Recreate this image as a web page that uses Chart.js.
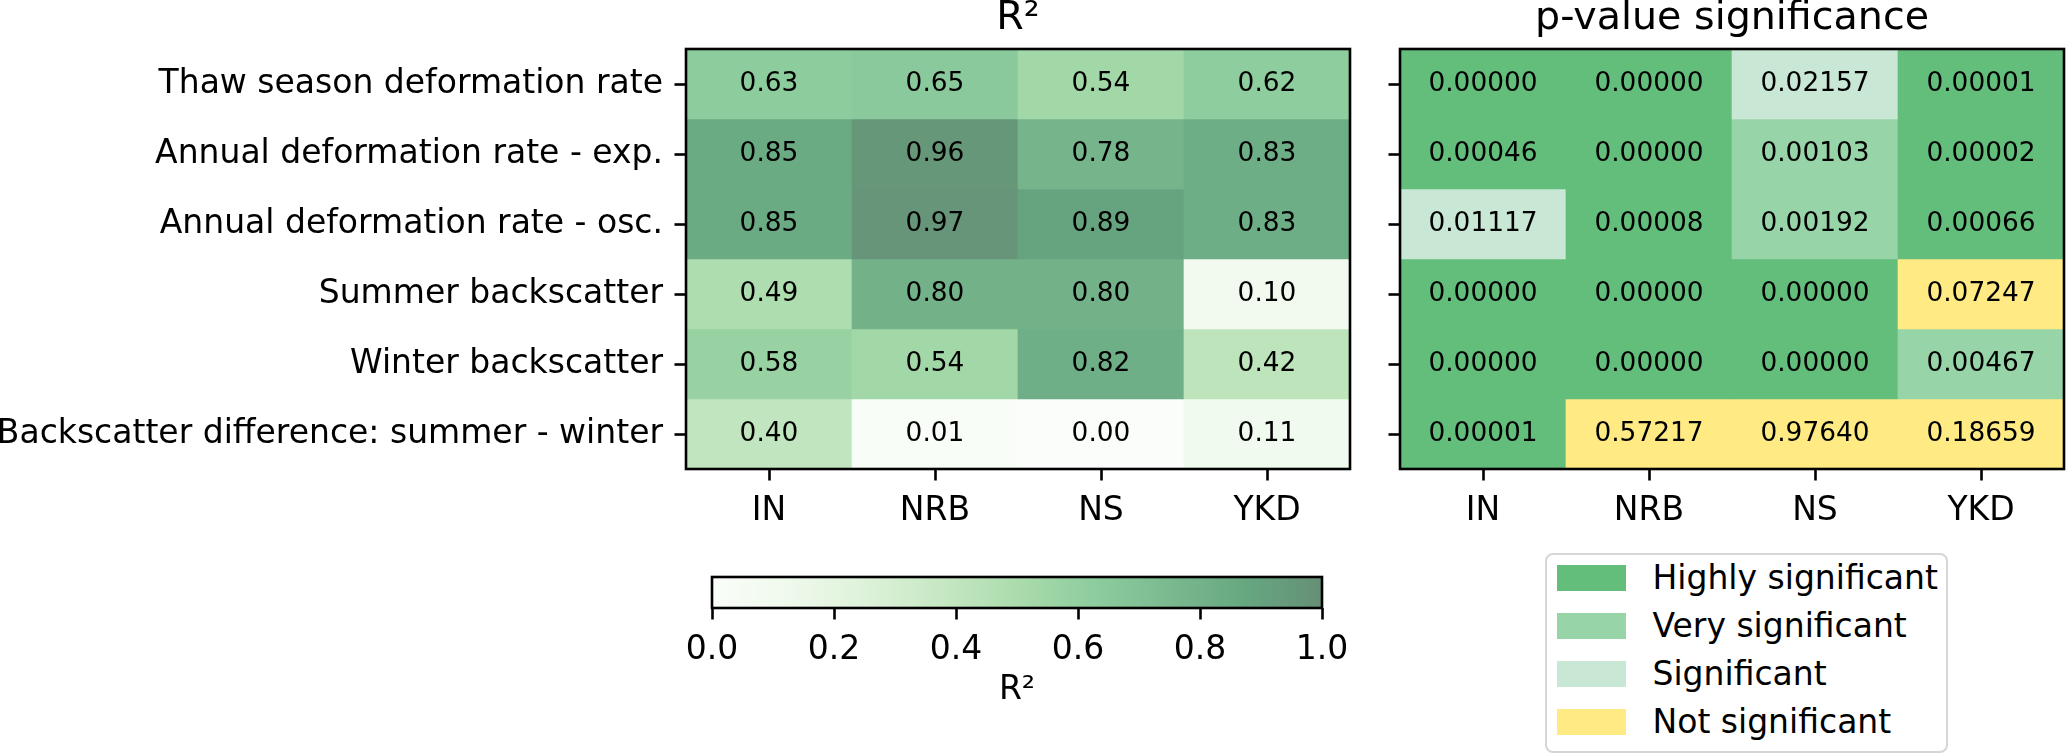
<!DOCTYPE html>
<html lang="en">
<head>
    <meta charset="UTF-8">
    <title>R² and p-value significance</title>
    <style>
        body {
            margin: 0;
            background: #fff;
            font-family: "DejaVu Sans", sans-serif;
        }

        .stage {
            position: relative;
            width: 2067px;
            height: 756px;
            overflow: hidden;
        }

        canvas {
            position: absolute;
        }

        #r2Chart { left: 0; top: 0; }
        #pChart { left: 1360px; top: 0; }
        #barChart { left: 670px; top: 560px; }

        /* legend for the significance classes */
        .legend {
            position: absolute;
            left: 1545px;
            top: 553px;
            width: 403px;
            height: 200px;
            box-sizing: border-box;
            border: 2.5px solid #d6d6d6;
            border-radius: 8px;
        }

        .legend-row {
            position: absolute;
            left: 9.5px;
            height: 26px;
            display: flex;
            align-items: center;
            font-size: 33px;
            color: #000;
            white-space: nowrap;
        }

        .swatch {
            width: 69px;
            height: 26px;
            margin-right: 27px;
            box-sizing: border-box;
        }
    </style>
    <script src="https://cdn.jsdelivr.net/npm/chart.js"></script>
</head>
<body>
<div class="stage">
    <canvas id="r2Chart" width="1360" height="540"></canvas>
    <canvas id="pChart" width="707" height="540"></canvas>
    <canvas id="barChart" width="700" height="196"></canvas>
    <div class="legend" id="legend"></div>
</div>

<script>
    const rowNames = [
        'Thaw season deformation rate',
        'Annual deformation rate - exp.',
        'Annual deformation rate - osc.',
        'Summer backscatter',
        'Winter backscatter',
        'Backscatter difference: summer - winter'
    ];
    const regions = ['IN', 'NRB', 'NS', 'YKD'];

    // R² per row, one value per region
    const r2Thaw = [0.63, 0.65, 0.54, 0.62];
    const r2AnnualExp = [0.85, 0.96, 0.78, 0.83];
    const r2AnnualOsc = [0.85, 0.97, 0.89, 0.83];
    const r2Summer = [0.49, 0.80, 0.80, 0.10];
    const r2Winter = [0.58, 0.54, 0.82, 0.42];
    const r2Diff = [0.40, 0.01, 0.00, 0.11];

    // p-values per row
    const pThaw = [0.00000, 0.00000, 0.02157, 0.00001];
    const pAnnualExp = [0.00046, 0.00000, 0.00103, 0.00002];
    const pAnnualOsc = [0.01117, 0.00008, 0.00192, 0.00066];
    const pSummer = [0.00000, 0.00000, 0.00000, 0.07247];
    const pWinter = [0.00000, 0.00000, 0.00000, 0.00467];
    const pDiff = [0.00001, 0.57217, 0.97640, 0.18659];

    const r2Values = [r2Thaw, r2AnnualExp, r2AnnualOsc, r2Summer, r2Winter, r2Diff];
    const pValues = [pThaw, pAnnualExp, pAnnualOsc, pSummer, pWinter, pDiff];

    const sigLabels = ['Highly significant', 'Very significant', 'Significant', 'Not significant'];
    const sigLimits = [0.001, 0.01, 0.05];
    const sigColors = ['#63be7b', '#97d4a8', '#c9e7d5', '#ffea84'];

    const colorbarTicks = [0.0, 0.2, 0.4, 0.6, 0.8, 1.0];

    // matplotlib "Greens" stops, drawn at alpha 0.6 over white
    const greens = [
        [247, 252, 245], [229, 245, 224], [199, 233, 192], [161, 217, 155], [116, 196, 118],
        [65, 171, 93], [35, 139, 69], [0, 109, 44], [0, 68, 27]
    ];

    function r2Color(v) {
        const t = Math.min(Math.max(v, 0), 1) * (greens.length - 1);
        const i = Math.min(Math.floor(t), greens.length - 2);
        const f = t - i;
        const rgb = greens[i].map((c, k) => c + (greens[i + 1][k] - c) * f);
        const out = rgb.map(c => Math.round(c * 0.6 + 255 * 0.4));
        return `rgb(${out[0]}, ${out[1]}, ${out[2]})`;
    }

    function sigColor(p) {
        let k = sigLimits.findIndex(lim => p < lim);
        if (k < 0) k = sigLimits.length;
        return sigColors[k];
    }

    const tickFont = { family: 'DejaVu Sans', size: 33 };
    const cellFont = '26.4px "DejaVu Sans"';
    const titleFont = '39.6px "DejaVu Sans"';

    // frame around the plot area, cell numbers and the axes title
    const framePlugin = {
        id: 'frame',
        afterDatasetsDraw(chart) {
            const ctx = chart.ctx;
            ctx.save();
            ctx.font = cellFont;
            ctx.fillStyle = '#000';
            ctx.textAlign = 'center';
            ctx.textBaseline = 'middle';
            chart.data.datasets.forEach((ds, i) => {
                if (!ds.cellText) return;
                chart.getDatasetMeta(i).data.forEach((el, j) => {
                    const { x, y, base } = el.getProps(['x', 'y', 'base'], true);
                    ctx.fillText(ds.cellText[j], x, (y + base) / 2);
                });
            });
            ctx.restore();
        },
        afterDraw(chart, args, opts) {
            const { left, top, right, bottom } = chart.chartArea;
            const ctx = chart.ctx;
            ctx.save();
            ctx.strokeStyle = '#000';
            ctx.lineWidth = 2.6;
            ctx.strokeRect(left, top, right - left, bottom - top);
            if (opts.title) {
                ctx.font = titleFont;
                ctx.fillStyle = '#000';
                ctx.textAlign = 'center';
                ctx.textBaseline = 'alphabetic';
                ctx.fillText(opts.title, (left + right) / 2, 29);
            }
            ctx.restore();
        }
    };

    function heatmap(canvasId, values, colorOf, textOf, showRowLabels, yWidth, padRight, title) {
        const canvas = document.getElementById(canvasId);
        return new Chart(canvas, {
            type: 'bar',
            data: {
                labels: regions,
                datasets: rowNames.map((name, i) => ({
                    label: name,
                    data: regions.map(() => [i, i + 1]),
                    backgroundColor: values[i].map(colorOf),
                    cellText: values[i].map(textOf),
                    borderWidth: 0,
                    grouped: false,
                    barPercentage: 1,
                    categoryPercentage: 1
                }))
            },
            options: {
                responsive: false,
                devicePixelRatio: 1,
                animation: false,
                layout: { padding: { top: 49, right: padRight, left: 0, bottom: 0 } },
                plugins: {
                    legend: { display: false },
                    tooltip: { enabled: false },
                    frame: { title: title }
                },
                scales: {
                    x: {
                        afterFit: s => { s.height = canvas.height - 469; },
                        ticks: { font: tickFont, color: '#000', padding: 11.5 },
                        grid: { offset: false, drawOnChartArea: false, tickLength: 11.5, tickWidth: 2.6, tickColor: '#000' },
                        border: { display: false }
                    },
                    y: {
                        type: 'linear',
                        min: 0,
                        max: rowNames.length,
                        reverse: true,
                        afterBuildTicks: s => { s.ticks = rowNames.map((_, i) => ({ value: i + 0.5 })); },
                        afterFit: s => { s.width = yWidth; },
                        ticks: {
                            autoSkip: false,
                            font: tickFont,
                            color: '#000',
                            padding: 11.5,
                            callback: (v, i) => showRowLabels ? rowNames[i] : ''
                        },
                        grid: { drawOnChartArea: false, tickLength: 11.5, tickWidth: 2.6, tickColor: '#000' },
                        border: { display: false }
                    }
                }
            },
            plugins: [framePlugin]
        });
    }

    heatmap('r2Chart', r2Values, r2Color, v => v.toFixed(2), true, 686, 10, 'R²');
    heatmap('pChart', pValues, sigColor, v => v.toFixed(5), false, 40, 3, 'p-value significance');

    // colorbar for R²
    new Chart(document.getElementById('barChart'), {
        type: 'bar',
        data: {
            labels: ['R²'],
            datasets: [{
                data: [[0, 1]],
                backgroundColor: ctx => {
                    const area = ctx.chart.chartArea;
                    if (!area) return null;
                    const g = ctx.chart.ctx.createLinearGradient(area.left, 0, area.right, 0);
                    for (let k = 0; k <= 64; k++) g.addColorStop(k / 64, r2Color(k / 64));
                    return g;
                },
                borderWidth: 0,
                barPercentage: 1,
                categoryPercentage: 1
            }]
        },
        options: {
            indexAxis: 'y',
            responsive: false,
            devicePixelRatio: 1,
            animation: false,
            layout: { padding: { top: 17, left: 42, right: 48, bottom: 0 } },
            plugins: {
                legend: { display: false },
                tooltip: { enabled: false },
                frame: {}
            },
            scales: {
                x: {
                    type: 'linear',
                    min: 0,
                    max: 1,
                    afterBuildTicks: s => { s.ticks = colorbarTicks.map(v => ({ value: v })); },
                    afterFit: s => { s.height = 148; },
                    ticks: { font: tickFont, color: '#000', padding: 11.5, callback: v => v.toFixed(1) },
                    grid: { drawOnChartArea: false, tickLength: 11.5, tickWidth: 2.6, tickColor: '#000' },
                    border: { display: false },
                    title: { display: true, text: 'R²', font: tickFont, color: '#000', padding: { top: 0, bottom: 46 } }
                },
                y: { display: false }
            }
        },
        plugins: [framePlugin]
    });

    // significance legend
    const legend = document.getElementById('legend');
    sigLabels.forEach((label, k) => {
        const row = document.createElement('div');
        row.className = 'legend-row';
        row.style.top = (9.5 + k * 48) + 'px';
        const sw = document.createElement('div');
        sw.className = 'swatch';
        sw.style.background = sigColors[k];
        const txt = document.createElement('span');
        txt.textContent = label;
        row.appendChild(sw);
        row.appendChild(txt);
        legend.appendChild(row);
    });
</script>
</body>
</html>
